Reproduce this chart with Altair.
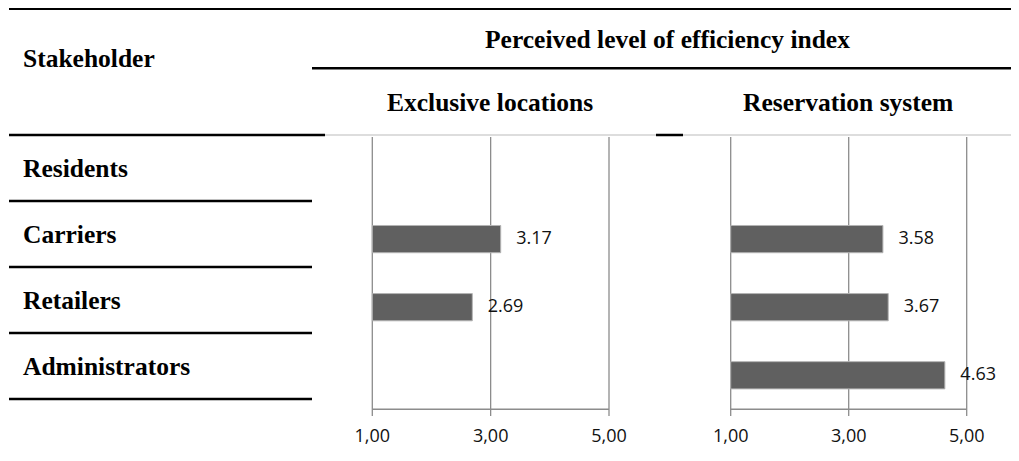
import altair as alt
import pandas as pd

# ---- data ----
stakeholders = ["Residents", "Carriers", "Retailers", "Administrators"]
exclusive_vals = [None, 3.17, 2.69, None]
reservation_vals = [None, 3.58, 3.67, 4.63]
panel_titles = ["Exclusive locations", "Reservation system"]
main_title = "Perceived level of efficiency index"
row_header = "Stakeholder"
tick_values = [1, 3, 5]
tick_labels = ["1,00", "3,00", "5,00"]

W, H = 1003, 445
SERIF = "Liberation Serif"
SANS = "Open Sans"
GRID = "#8c8c8c"
HFS = 25.5


def one():
    return pd.DataFrame({"k": [0]})


def bar_df(vals):
    return pd.DataFrame(
        [{"stakeholder": s, "value": v, "label": f"{v:.2f}"}
         for s, v in zip(stakeholders, vals) if v is not None]
    )


ticks_df = pd.DataFrame({"tick": tick_values, "label": tick_labels})
yband = alt.Scale(domain=stakeholders, range=[129, 401.3], paddingInner=0.6, paddingOuter=0.3)


def panel(vals, xrange):
    xs = alt.Scale(domain=[tick_values[0], tick_values[-1]], range=xrange, zero=False, nice=False)
    df = bar_df(vals)
    grid = alt.Chart(ticks_df).mark_rule(color=GRID, strokeWidth=1.3).encode(
        x=alt.X("tick:Q", scale=xs, axis=None), y=alt.value(129), y2=alt.value(408)
    )
    dom = alt.Chart(pd.DataFrame({"a": [tick_values[0]], "b": [tick_values[-1]]})).mark_rule(
        color=GRID, strokeWidth=1.5
    ).encode(x=alt.X("a:Q", scale=xs, axis=None), x2="b:Q", y=alt.value(401.3))
    bars = alt.Chart(df).mark_bar(color="#606060", stroke="#b4b4b4", strokeWidth=1).encode(
        x=alt.X("value:Q", scale=xs, axis=None),
        x2=alt.datum(tick_values[0]),
        y=alt.Y("stakeholder:N", scale=yband, axis=None),
    )
    labels = alt.Chart(df).mark_text(
        align="left", baseline="middle", dx=15.5, font=SANS, fontSize=18, color="#111"
    ).encode(
        x=alt.X("value:Q", scale=xs, axis=None),
        y=alt.Y("stakeholder:N", scale=yband, axis=None),
        text="label:N",
    )
    tl = alt.Chart(ticks_df).mark_text(
        align="center", baseline="alphabetic", font=SANS, fontSize=18, color="#111"
    ).encode(x=alt.X("tick:Q", scale=xs, axis=None), y=alt.value(434), text="label:N")
    return [grid, dom, bars, labels, tl]


def hrule(x1, x2, y, w=2.5, color="black"):
    return alt.Chart(one()).mark_rule(color=color, strokeWidth=w).encode(
        x=alt.value(x1), x2=alt.value(x2), y=alt.value(y)
    )


def htext(txt, x, y):
    return alt.Chart(one()).mark_text(
        text=txt, align="left", baseline="alphabetic", font=SERIF, fontWeight="bold",
        fontSize=HFS, color="black"
    ).encode(x=alt.value(x), y=alt.value(y))


rows_df = pd.DataFrame({"stakeholder": stakeholders})
yrow = alt.Scale(type="point", domain=stakeholders, range=[169, 367], padding=0)
row_labels = alt.Chart(rows_df).mark_text(
    align="left", baseline="alphabetic", font=SERIF, fontWeight="bold", fontSize=HFS, color="black"
).encode(x=alt.value(15), y=alt.Y("stakeholder:N", scale=yrow, axis=None), text="stakeholder:N")
row_lines = alt.Chart(rows_df).mark_rule(color="black", strokeWidth=2.3, yOffset=24).encode(
    x=alt.value(1), x2=alt.value(304), y=alt.Y("stakeholder:N", scale=yrow, axis=None)
)

layers = [
    hrule(1, W, 0.5, 3),
    hrule(304, W, 60.3, 2.5),
    hrule(317, W, 127, 0.5, "#777"),
    hrule(1, 317, 127, 2.5),
    hrule(648, 675, 127, 2.5),
    htext(row_header, 15, 59),
    htext(main_title, 477, 40),
    htext(panel_titles[0], 379, 103),
    htext(panel_titles[1], 735, 103),
    row_labels,
    row_lines,
]
layers += panel(exclusive_vals, [364.3, 601])
layers += panel(reservation_vals, [722.7, 958.7])

chart = (
    alt.layer(*layers)
    .resolve_scale(x="independent", y="independent")
    .properties(width=W, height=H, autosize=alt.AutoSizeParams(type="none"), padding=0, background="white")
    .configure_view(stroke=None)
)

chart.save("out.html", embed_options={"renderer": "svg", "actions": False})
